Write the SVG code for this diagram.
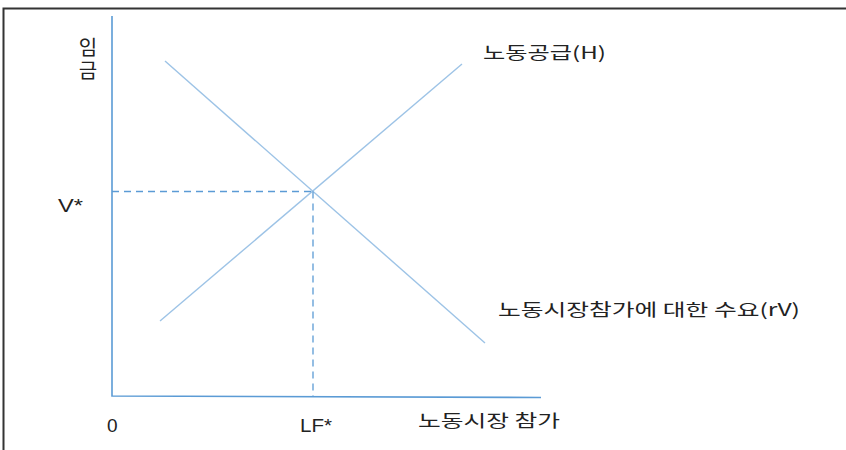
<svg xmlns="http://www.w3.org/2000/svg" width="846" height="450" viewBox="0 0 846 450">
<style>
.frame{stroke:#333;stroke-width:2;fill:none}
.axis{stroke:#5b9bd5;stroke-width:1.6;fill:none}
.curve{stroke:#9dc3e6;stroke-width:1.4;fill:none}
.guide{stroke:#5b9bd5;stroke-width:1.3;stroke-dasharray:7 5;fill:none}
.ko{font-family:"Noto Sans CJK KR","Noto Sans",sans-serif;font-size:17px;fill:#222}
.vert{font-size:20px;writing-mode:vertical-rl;text-orientation:upright;letter-spacing:3px}
.lat{font-family:"Liberation Sans",Arial,sans-serif;font-size:19px;fill:#222}
</style>
<rect width="846" height="450" fill="#fff"/>
<path class="frame" d="M3.5,452 V8.5 H848"/>
<g id="connectors">
<path class="axis" d="M112,16 V396 L541,397.5"/>
<line id="demand" class="curve" x1="165" y1="61" x2="485" y2="343"/>
<line id="supply" class="curve" x1="160" y1="321" x2="462" y2="64"/>
<path class="guide" d="M112,191.5 H313"/>
<path class="guide" d="M313,191.5 V396"/>
</g>
<g id="y-label">
<text class="ko vert" x="88" y="37">임금</text>
</g>
<g id="supply-label"><text class="ko" x="483" y="59" textLength="123" lengthAdjust="spacingAndGlyphs">노동공급(H)</text></g>
<g id="demand-label"><text class="ko" x="498" y="316" textLength="302" lengthAdjust="spacingAndGlyphs">노동시장참가에 대한 수요(rV)</text></g>
<g id="x-label"><text class="ko" x="418" y="427" textLength="142" lengthAdjust="spacingAndGlyphs">노동시장 참가</text></g>
<g id="v-star"><text class="lat" x="58" y="212" textLength="25" lengthAdjust="spacingAndGlyphs">V*</text></g>
<g id="origin"><text class="lat" x="107" y="432">0</text></g>
<g id="lf-star"><text class="lat" x="300" y="432" textLength="32" lengthAdjust="spacingAndGlyphs">LF*</text></g>
</svg>
